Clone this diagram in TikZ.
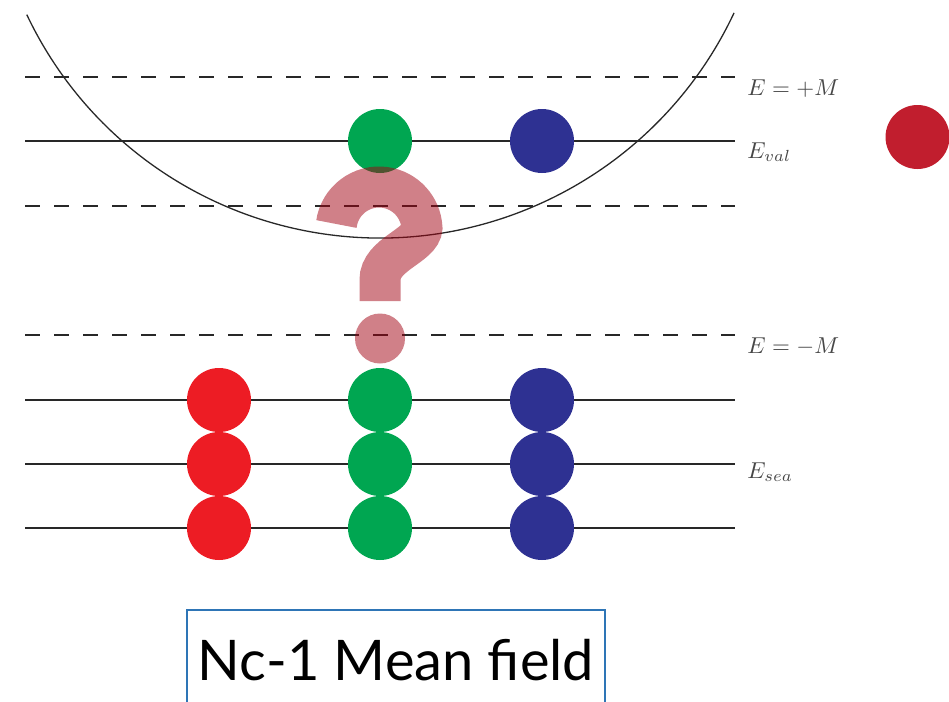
\documentclass[tikz,border=0pt]{standalone}
\usepackage{fontspec}
\newfontfamily\titlefont{Lato}
\usetikzlibrary{positioning}
\definecolor{quarkred}{RGB}{237,28,36}
\definecolor{quarkgreen}{RGB}{0,166,81}
\definecolor{quarkblue}{RGB}{46,49,146}
\definecolor{baryonred}{RGB}{193,30,46}
\definecolor{qmark}{RGB}{161,1,17}
\definecolor{boxblue}{RGB}{46,117,182}
\definecolor{levelgray}{RGB}{40,40,40}

\begin{document}
\begin{tikzpicture}[
    x=1pt, y=1pt,
    level/.style={line width=1.4pt, levelgray},
    gapline/.style={level, dash pattern=on 15pt off 14pt},
    potential/.style={line width=1.3pt, levelgray},
    ball/.style={circle, minimum size=64pt, inner sep=0pt, fill=#1},
    elabel/.style={anchor=base west, inner sep=0pt, text=black!72, scale=2.3, transform shape},
    titlebox/.style={draw=boxblue, line width=2pt, anchor=base, inner sep=0pt,
        minimum width=418pt, text height=70pt, text depth=40pt,
        font=\titlefont\fontsize{56}{64}\selectfont}
]
\useasboundingbox (0,0) rectangle (949,-701);
\clip (0,0) rectangle (949,-701);
% energy levels
\foreach \y in {77,206,335}{\draw[gapline] (25,-\y) -- (735,-\y);}
\foreach \y in {141,400,464,528}{\draw[level] (25,-\y) -- (735,-\y);}
% bag potential
\draw[potential] (26.8,-14.7) arc[start angle=205.4, end angle=334.9, radius=391pt];
% valence and sea quarks
\node[ball=quarkgreen] (gval) at (380,-141) {};
\node[ball=quarkblue] (bval) at (542,-141) {};
\node[ball=baryonred] (lone) at (917.5,-137) {};
\foreach \y/\n in {400/1,464/2,528/3}{
  \node[ball=quarkred] (r\n) at (219,-\y) {};
  \node[ball=quarkgreen] (g\n) at (380,-\y) {};
  \node[ball=quarkblue] (b\n) at (542,-\y) {};
}
% question mark
\draw[qmark, opacity=0.5, line width=41pt] (379,-230) ++(172:43)
  arc[start angle=172, end angle=3, radius=43pt]
  .. controls (421,-246) and (380,-254) .. (380,-280) -- (380,-301);
\fill[qmark, opacity=0.5] (380,-338.5) circle[radius=25pt];
% labels
\node[elabel] (eplus) at (747,-95) {$E=+M$};
\node[elabel] (eval) at (747,-158) {$E_{val}$};
\node[elabel] (eminus) at (747,-353) {$E=-M$};
\node[elabel] (esea) at (747,-478) {$E_{sea}$};
\node[titlebox] (title) at (396,-680) {Nc-1 Mean field};
\end{tikzpicture}
\end{document}
